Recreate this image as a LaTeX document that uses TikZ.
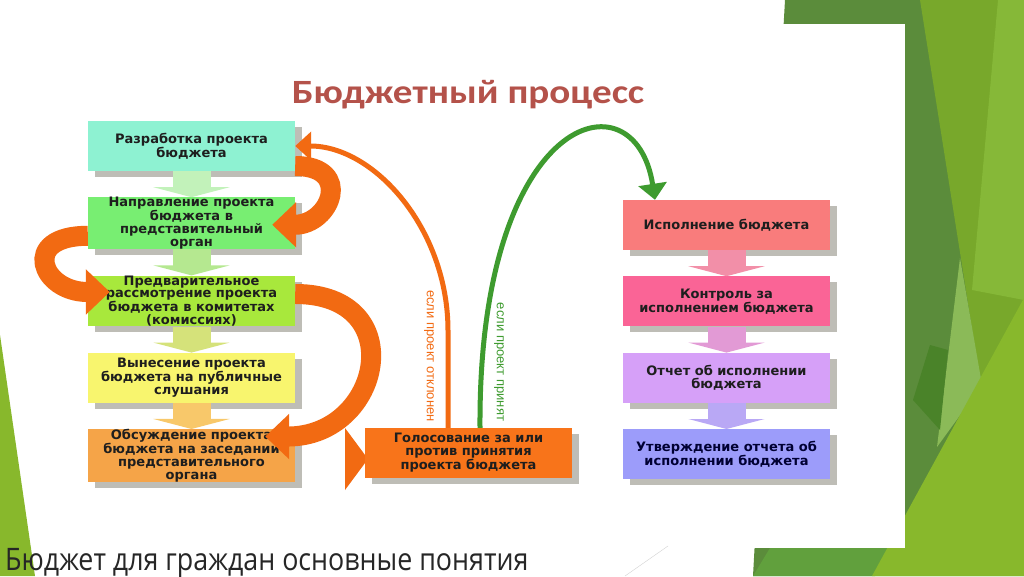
\documentclass[tikz,border=0pt]{standalone}
\usepackage{fontspec}
\setmainfont{DejaVu Sans}
\newfontfamily\boxfont{DejaVu Sans}
\newfontfamily\titlefont{Carlito}
\newfontfamily\slidefont{Open Sans}
\newfontfamily\notefont{Liberation Sans}
\usepackage{xcolor}
\usepackage{graphicx}
\usetikzlibrary{arrows.meta}
\usetikzlibrary{positioning,shadows}

% slide background
\definecolor{panelgreen}{HTML}{5B8C3B}
\definecolor{stripegreen}{HTML}{78A82B}
\definecolor{lightstripe}{HTML}{86B838}
\definecolor{palegreen}{HTML}{8BBA58}
\definecolor{deepgreen}{HTML}{4A8329}
\definecolor{limegreen}{HTML}{88B82C}
\definecolor{midgreen}{HTML}{61A03D}
\definecolor{slidetext}{HTML}{262626}
% diagram
\definecolor{titlered}{HTML}{B4524A}
\definecolor{turnorange}{HTML}{F26A12}
\definecolor{yesgreen}{HTML}{3E9B2F}
\definecolor{shadowgray}{HTML}{BEBDB6}
\definecolor{boxtext}{HTML}{1E1E1E}
\definecolor{devcol}{HTML}{8EF2D2}
\definecolor{sendcol}{HTML}{78EE72}
\definecolor{reviewcol}{HTML}{A8E83C}
\definecolor{hearcol}{HTML}{F8F56E}
\definecolor{discol}{HTML}{F5A448}
\definecolor{votecol}{HTML}{F8741A}
\definecolor{execcol}{HTML}{F97C7C}
\definecolor{controlcol}{HTML}{FA6496}
\definecolor{reportcol}{HTML}{D6A0F8}
\definecolor{approvecol}{HTML}{9C9CFA}
\definecolor{linkA}{HTML}{C2F2BA}
\definecolor{linkB}{HTML}{B5E890}
\definecolor{linkC}{HTML}{D5E27A}
\definecolor{linkD}{HTML}{F8C86A}
\definecolor{linkE}{HTML}{F28FA8}
\definecolor{linkF}{HTML}{E29AD5}
\definecolor{linkG}{HTML}{B9A8F5}

\tikzset{
    stepbox/.style={
        fill=#1,
        minimum width=207pt,
        minimum height=50pt,
        inner sep=0pt,
        align=center,
        text=boxtext,
        font=\boxfont\bfseries\fontsize{13}{12.8}\selectfont,
        drop shadow={shadow xshift=7pt, shadow yshift=-6pt, fill=shadowgray, opacity=1}
    },
    flow/.style={
        draw=#1,
        line width=38pt,
        -{Triangle[length=10pt, width=76pt]}
    },
    bigturn/.style={
        draw=turnorange,
        line width=20pt,
        -{Triangle[length=24pt, width=44pt]}
    },
    decision/.style={
        draw=#1,
        line width=5pt,
        -{Triangle[length=16pt, width=28pt]}
    }
}

\begin{document}
\begin{tikzpicture}[x=1pt, y=1pt]
    \useasboundingbox (0,0) rectangle (1024,576);
    \fill[white] (0,0) rectangle (1024,576);

    % Green slide background
    \fill[panelgreen] (785,576) -- (1024,576) -- (1024,0) -- (753,0) -- cycle;
    \fill[stripegreen] (920,576) -- (1024,576) -- (1024,273) -- (980,196) -- (962,311) -- cycle;
    \fill[lightstripe] (998,576) -- (1024,576) -- (1024,276) -- (972,286) -- cycle;
    \fill[palegreen] (960,318) -- (982,191) -- (937,129) -- cycle;
    \fill[deepgreen] (930,231) -- (948,226) -- (940,146) -- (913,176) -- cycle;
    \fill[midgreen] (770,28) -- (905,28) -- (875,0) -- (753,0) -- cycle;
    \fill[limegreen] (1024,278) -- (1024,0) -- (872,0) -- cycle;
    \fill[white] (0,28) rectangle (905,552);
    \fill[limegreen] (0,241) -- (35,0) -- (0,0) -- cycle;
    \draw[gray!35, thin] (668,30) -- (625,0);

    % Title
    \node[anchor=base, text=titlered, font=\titlefont\bfseries\fontsize{34}{34}\selectfont] (title) at (468,472) {\scalebox{1.15}[1]{Бюджетный процесс}};

    % Preparation and adoption
    \node[stepbox=devcol] (b1) at (191.5,430) {Разработка проекта\\бюджета};
    \node[stepbox=sendcol, below=26pt of b1] (b2) {Направление проекта\\бюджета в\\представительный\\орган};
    \node[stepbox=reviewcol, below=26pt of b2] (b3) {Предварительное\\рассмотрение проекта\\бюджета в комитетах\\(комиссиях)};
    \node[stepbox=hearcol, below=26pt of b3] (b4) {Вынесение проекта\\бюджета на публичные\\слушания};
    \fill[turnorange] (345,148) -- (345,86) -- (368,117) -- cycle;
    \node[stepbox=discol, below=26pt of b4] (b5) {Обсуждение проекта\\бюджета на заседании\\представительного\\органа};
    \node[stepbox=votecol] (vote) at (468.5,123) {Голосование за или\\против принятия\\проекта бюджета};

    % Execution
    \node[stepbox=execcol] (r1) at (726.5,351) {Исполнение бюджета};
    \node[stepbox=controlcol, below=26pt of r1] (r2) {Контроль за\\исполнением бюджета};
    \node[stepbox=reportcol, below=26pt of r2] (r3) {Отчет об исполнении\\бюджета};
    \node[stepbox=approvecol, below=26pt of r3, text=black!80!blue] (r4) {Утверждение отчета об\\исполнении бюджета};

    % Links between steps
    \draw[flow=linkA] (b1.south) -- (b2.north);
    \draw[flow=linkB] (b2.south) -- (b3.north);
    \draw[flow=linkC] (b3.south) -- (b4.north);
    \draw[flow=linkD] (b4.south) -- (b5.north);
    \draw[flow=linkE] (r1.south) -- (r2.north);
    \draw[flow=linkF] (r2.south) -- (r3.north);
    \draw[flow=linkG] (r3.south) -- (r4.north);

    % Returns
    \draw[bigturn] ([yshift=-20pt]b1.east) to[out=0, in=0, looseness=2.37] ([xshift=-23pt, yshift=-1.5pt]b2.east);
    \draw[bigturn] ([yshift=-12.5pt]b2.west) to[out=180, in=180, looseness=2.9] ([xshift=22pt, yshift=9pt]b3.west);
    \draw[bigturn] ([yshift=7pt]b3.east) to[out=0, in=0, looseness=2.05] ([xshift=-30pt, yshift=19pt]b5.east);

    % Outcome of the vote
    \draw[decision=turnorange] ([xshift=-20.5pt]vote.north) -- ++(0,97) .. controls +(0,102) and +(79,0) .. (b1.east);
    \draw[decision=yesgreen] ([xshift=11.5pt]vote.north) .. controls +(-2,315) and +(-20,130) .. ([xshift=-71.5pt]r1.north);
    \node[rotate=-90, text=turnorange, font=\notefont\fontsize{13}{13}\selectfont] (rejected) at (429,220) {если проект отклонен};
    \node[rotate=-90, text=yesgreen, font=\notefont\fontsize{13}{13}\selectfont] (accepted) at (499,214) {если проект принят};

    % Slide caption
    \node[anchor=base west, inner sep=0pt, text=slidetext, font=\slidefont\fontsize{31}{31}\selectfont] (caption) at (5,6) {\scalebox{0.865}[1]{Бюджет для граждан основные понятия}};
\end{tikzpicture}
\end{document}
